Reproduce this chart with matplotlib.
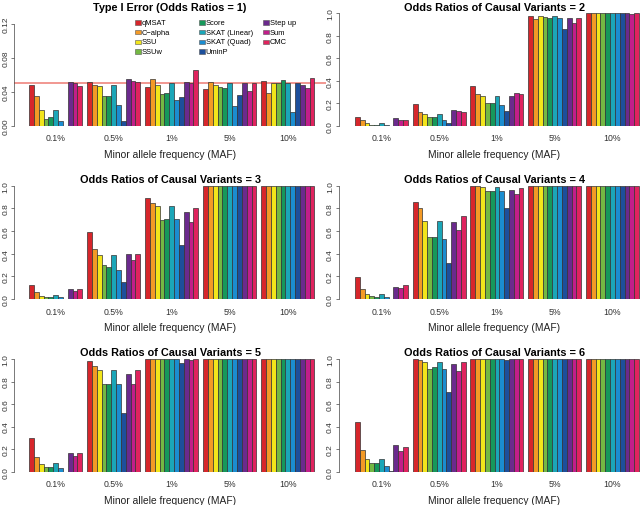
import matplotlib
matplotlib.use("Agg")
import matplotlib.pyplot as plt
from matplotlib.patches import Rectangle
import numpy as np

plt.rcParams["font.family"] = ["Liberation Sans", "DejaVu Sans"]

methods = ["qMSAT", "C\u2212alpha", "SSU", "SSUw", "Score", "SKAT (Linear)",
           "SKAT (Quad)", "UminP", "Step up", "Sum", "CMC"]
colors = ["#d7262b", "#f39a26", "#f2e51b", "#74b843", "#16985b", "#1ba6b8",
          "#1b8dd0", "#1d4f9b", "#6b2a8d", "#c21e8a", "#e0235e"]
maf = ["0.1%", "0.5%", "1%", "5%", "10%"]

# rows = MAF groups, columns = methods
type1 = [
    [0.048, 0.035, 0.018, 0.008, 0.010, 0.018, 0.006, 0.000, 0.051, 0.050, 0.047],
    [0.051, 0.048, 0.047, 0.035, 0.035, 0.048, 0.024, 0.006, 0.055, 0.053, 0.052],
    [0.046, 0.055, 0.048, 0.037, 0.038, 0.050, 0.030, 0.034, 0.051, 0.050, 0.066],
    [0.043, 0.051, 0.048, 0.046, 0.044, 0.050, 0.023, 0.036, 0.050, 0.041, 0.050],
    [0.053, 0.038, 0.050, 0.050, 0.054, 0.050, 0.016, 0.050, 0.048, 0.045, 0.056],
]
or2 = [
    [0.074, 0.047, 0.020, 0.010, 0.010, 0.020, 0.005, 0.000, 0.065, 0.050, 0.052],
    [0.190, 0.120, 0.100, 0.075, 0.075, 0.100, 0.050, 0.020, 0.140, 0.135, 0.125],
    [0.353, 0.280, 0.260, 0.205, 0.205, 0.260, 0.180, 0.130, 0.265, 0.290, 0.280],
    [0.980, 0.950, 0.980, 0.970, 0.960, 0.980, 0.960, 0.860, 0.955, 0.910, 0.960],
    [1.000, 1.000, 1.000, 1.000, 1.000, 1.000, 1.000, 1.000, 1.000, 0.990, 1.000],
]
or3 = [
    [0.120, 0.065, 0.030, 0.015, 0.020, 0.035, 0.015, 0.000, 0.090, 0.070, 0.085],
    [0.590, 0.440, 0.390, 0.300, 0.280, 0.390, 0.260, 0.150, 0.400, 0.340, 0.400],
    [0.890, 0.850, 0.820, 0.700, 0.710, 0.820, 0.710, 0.480, 0.770, 0.680, 0.800],
    [1.000, 1.000, 1.000, 1.000, 1.000, 1.000, 1.000, 1.000, 1.000, 1.000, 1.000],
    [1.000, 1.000, 1.000, 1.000, 1.000, 1.000, 1.000, 1.000, 1.000, 1.000, 1.000],
]
or4 = [
    [0.190, 0.090, 0.040, 0.030, 0.020, 0.045, 0.020, 0.000, 0.110, 0.100, 0.120],
    [0.860, 0.800, 0.690, 0.550, 0.550, 0.690, 0.530, 0.320, 0.680, 0.610, 0.730],
    [1.000, 0.995, 0.985, 0.950, 0.950, 0.985, 0.955, 0.800, 0.965, 0.925, 0.980],
    [1.000, 1.000, 1.000, 1.000, 1.000, 1.000, 1.000, 1.000, 1.000, 1.000, 1.000],
    [1.000, 1.000, 1.000, 1.000, 1.000, 1.000, 1.000, 1.000, 1.000, 1.000, 1.000],
]
or5 = [
    [0.300, 0.130, 0.070, 0.045, 0.045, 0.075, 0.030, 0.000, 0.165, 0.140, 0.165],
    [0.980, 0.940, 0.900, 0.780, 0.780, 0.900, 0.780, 0.520, 0.870, 0.780, 0.900],
    [1.000, 1.000, 1.000, 1.000, 1.000, 1.000, 1.000, 0.965, 1.000, 0.990, 1.000],
    [1.000, 1.000, 1.000, 1.000, 1.000, 1.000, 1.000, 1.000, 1.000, 1.000, 1.000],
    [1.000, 1.000, 1.000, 1.000, 1.000, 1.000, 1.000, 1.000, 1.000, 1.000, 1.000],
]
or6 = [
    [0.440, 0.190, 0.110, 0.075, 0.075, 0.115, 0.050, 0.005, 0.235, 0.180, 0.215],
    [1.000, 0.990, 0.970, 0.915, 0.925, 0.970, 0.910, 0.710, 0.960, 0.895, 0.975],
    [1.000, 1.000, 1.000, 1.000, 1.000, 1.000, 1.000, 0.990, 1.000, 1.000, 1.000],
    [1.000, 1.000, 1.000, 1.000, 1.000, 1.000, 1.000, 1.000, 1.000, 1.000, 1.000],
    [1.000, 1.000, 1.000, 1.000, 1.000, 1.000, 1.000, 1.000, 1.000, 1.000, 1.000],
]

titles = ["Type I Error (Odds Ratios = 1)",
          "Odds Ratios of Causal Variants = 2",
          "Odds Ratios of Causal Variants = 3",
          "Odds Ratios of Causal Variants = 4",
          "Odds Ratios of Causal Variants = 5",
          "Odds Ratios of Causal Variants = 6"]
panels = [type1, or2, or3, or4, or5, or6]

W, H = 641, 506
fig = plt.figure(figsize=(W / 100, H / 100), dpi=100)

# pixel layout: (left, right, xlim left) per column, (top of y-range, zero line) per row
cols_px = [(14.0, 326.0, -2.1), (338.6, 650.5, -2.4)]
rows_px = [(14.3, 126.7), (186.7, 300.0), (360.0, 472.7)]

n_m = len(methods)
group_w = n_m + 1  # one empty bar slot between groups


def add_panel(idx, data, title):
    r, c = divmod(idx, 2)
    left, right, x_lo = cols_px[c]
    top, bottom = rows_px[r]
    ax = fig.add_axes([left / W, 1 - bottom / H, (right - left) / W, (bottom - top) / H])
    data = np.array(data)
    for g in range(len(maf)):
        x = g * group_w + 1 + np.arange(n_m)
        ax.bar(x, data[g], width=1.0, align="edge", color=colors,
               edgecolor="#333333", linewidth=0.5)
    ax.set_xlim(x_lo, 62.4)
    centers = np.arange(len(maf)) * group_w + 1 + n_m / 2
    ax.set_xticks(centers)
    ax.set_xticklabels(maf)
    ax.tick_params(axis="x", length=0, pad=5.5, labelsize=6.3, labelcolor="#333333")
    if idx == 0:
        ax.set_ylim(0, 0.1326)
        ticks = [0.0, 0.04, 0.08, 0.12]
        ax.set_yticks(ticks)
        ax.set_yticklabels(["0.00", "0.04", "0.08", "0.12"])
        ax.axhline(0.05, color="#ee7b73", linewidth=1.1, zorder=0.5)
    else:
        ax.set_ylim(0, 1.0)
        ticks = [0.0, 0.2, 0.4, 0.6, 0.8, 1.0]
        ax.set_yticks(ticks)
        ax.set_yticklabels(["0.0", "0.2", "0.4", "0.6", "0.8", "1.0"])
    for lab in ax.get_yticklabels():
        lab.set_rotation(90)
        lab.set_va("center")
    ax.tick_params(axis="y", length=2.4, width=0.5, pad=1.0, labelsize=6.0,
                   labelcolor="#333333", color="#444444")
    for s in ["top", "right", "bottom"]:
        ax.spines[s].set_visible(False)
    ax.spines["left"].set_bounds(ticks[0], ticks[-1])
    ax.spines["left"].set_linewidth(0.5)
    ax.spines["left"].set_color("#444444")
    ax.set_title(title, fontsize=7.8, fontweight="bold", pad=2.6)
    ax.set_xlabel("Minor allele frequency (MAF)", fontsize=7.4, labelpad=4.5,
                  color="#222222")
    ax.patch.set_visible(False)
    return ax


axes = [add_panel(i, d, t) for i, (d, t) in enumerate(zip(panels, titles))]

# legend in the first panel: 3 columns of 4 rows, no frame
for i, (lab, col) in enumerate(zip(methods, colors)):
    cc, rr = divmod(i, 4)
    x0 = 135 + cc * 64
    y0 = 23.5 + rr * 9.6
    fig.patches.append(Rectangle((x0 / W, 1 - (y0 + 2.2) / H), 6.3 / W, 4.4 / H,
                                 transform=fig.transFigure, facecolor=col,
                                 edgecolor="#555555", linewidth=0.4))
    fig.text((x0 + 6.8) / W, 1 - y0 / H, lab, fontsize=5.4, va="center", ha="left")

fig.savefig("out.png", dpi=100)
